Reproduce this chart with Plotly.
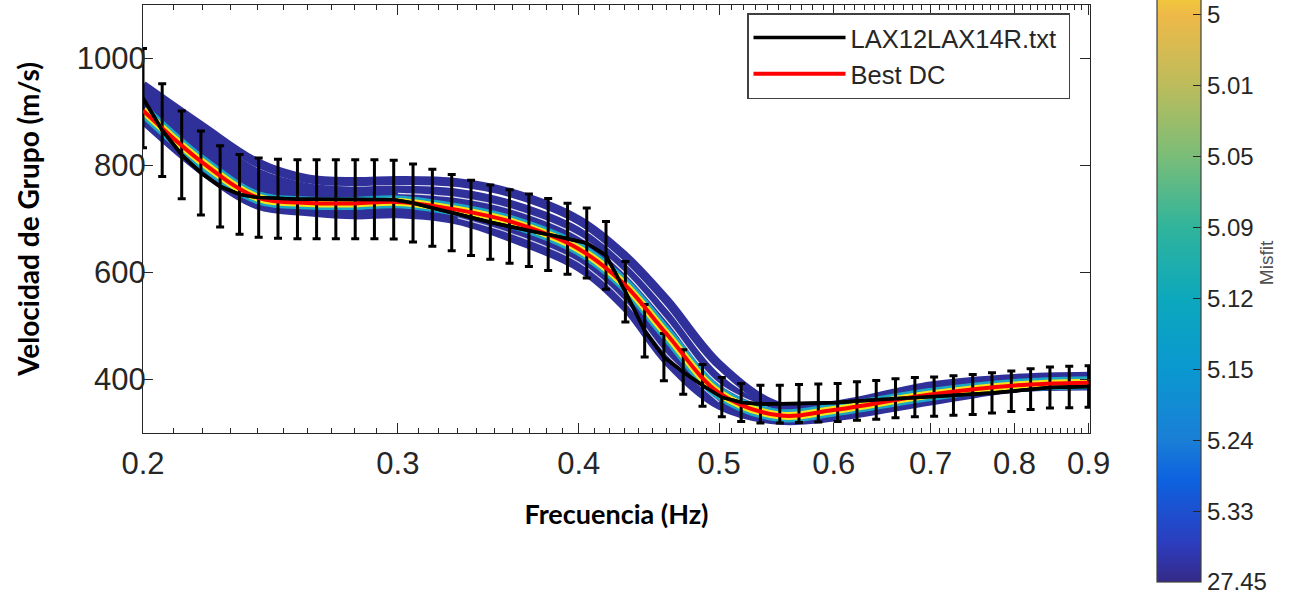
import plotly.graph_objects as go
import math

# ---------------- data ----------------
# observed dispersion curve (LAX12LAX14R.txt), error bars = 10 %
obs_freq = [0.2000, 0.2062, 0.2127, 0.2193, 0.2261, 0.2332, 0.2404, 0.2479, 0.2557, 0.2636,
            0.2718, 0.2803, 0.2890, 0.2980, 0.3073, 0.3169, 0.3268, 0.3370, 0.3475, 0.3583,
            0.3695, 0.3810, 0.3929, 0.4051, 0.4177, 0.4308, 0.4442, 0.4580, 0.4723, 0.4870,
            0.5022, 0.5179, 0.5340, 0.5507, 0.5678, 0.5855, 0.6038, 0.6226, 0.6420, 0.6620,
            0.6827, 0.7039, 0.7259, 0.7485, 0.7718, 0.7959, 0.8207, 0.8463, 0.8727, 0.9000]
obs_vel = [926, 866, 820, 786, 761, 746, 740, 738, 737, 737,
           737, 737, 737, 736, 730, 721, 712, 702, 694, 686,
           679, 671, 663, 655, 632, 564, 491, 442, 414, 389,
           367, 357, 354, 354, 355, 356, 357, 360, 362, 365,
           367, 368, 370, 372, 375, 378, 382, 385, 386, 387]
obs_err_pct = 10

# model dispersion curves (group velocity, m/s)
model_freq = [0.20, 0.22, 0.24, 0.26, 0.28, 0.30, 0.33, 0.36, 0.40, 0.43, 0.46, 0.50, 0.55, 0.60, 0.70, 0.80, 0.90]
model_upper_strand = [950, 872, 805, 775, 770, 772, 768, 748, 698, 632, 548, 428, 350, 352, 388, 402, 406]
model_band_top = [940, 858, 790, 762, 756, 758, 752, 730, 680, 612, 525, 405, 343, 348, 384, 400, 404]
model_band_bottom = [880, 785, 722, 710, 704, 706, 694, 660, 606, 532, 430, 348, 320, 326, 356, 380, 384]
best_dc = [903, 805, 740, 730, 729, 732, 717, 694, 644, 578, 485, 375, 333, 343, 372, 389, 394]

gap_freq_a = [0.30, 0.33, 0.36, 0.40, 0.43, 0.46, 0.50, 0.55]
gap_vel_a = [748, 740, 718, 668, 600, 510, 392, 340]
gap_freq_b = [0.33, 0.36, 0.40, 0.43, 0.46, 0.50]
gap_vel_b = [702, 672, 619, 547, 447, 358]

# colour bar (misfit)
misfit_labels = ["27.45", "5.33", "5.24", "5.15", "5.12", "5.09", "5.05", "5.01", "5"]

x_ticks = [0.2, 0.3, 0.4, 0.5, 0.6, 0.7, 0.8, 0.9]
x_ticklabels = ["0.2", "0.3", "0.4", "0.5", "0.6", "0.7", "0.8", "0.9"]
y_ticks = [400, 600, 800, 1000]

# ---------------- style ----------------
parula_rev = [
    [0.000, "#352a87"], [0.060, "#2c3dbe"], [0.160, "#0d62e0"], [0.222, "#1a7ed6"],
    [0.333, "#0a98d0"], [0.444, "#0ca8bc"], [0.556, "#30b49c"], [0.667, "#7abd78"],
    [0.778, "#bcbc5c"], [0.889, "#eeb948"], [1.000, "#f9fb0e"]]
BAND = "#30309a"
AX = "#262626"

fig = go.Figure()

# blue ensemble band
fig.add_trace(go.Scatter(x=model_freq, y=model_band_bottom, mode="lines",
                         line=dict(color=BAND, width=5, shape="spline"),
                         showlegend=False, hoverinfo="skip"))
fig.add_trace(go.Scatter(x=model_freq, y=model_band_top, mode="lines", fill="tonexty",
                         fillcolor=BAND, line=dict(color=BAND, width=5, shape="spline"),
                         showlegend=False, hoverinfo="skip"))
fig.add_trace(go.Scatter(x=model_freq, y=model_upper_strand, mode="lines",
                         line=dict(color=BAND, width=9, shape="spline"),
                         showlegend=False, hoverinfo="skip"))
# thin gaps between ensemble members
fig.add_trace(go.Scatter(x=gap_freq_a, y=gap_vel_a, mode="lines",
                         line=dict(color="rgba(255,255,255,0.85)", width=1.3, shape="spline"),
                         showlegend=False, hoverinfo="skip"))
fig.add_trace(go.Scatter(x=gap_freq_b, y=gap_vel_b, mode="lines",
                         line=dict(color="rgba(255,255,255,0.75)", width=1.2, shape="spline"),
                         showlegend=False, hoverinfo="skip"))
# low-misfit models around the best one
fig.add_trace(go.Scatter(x=model_freq, y=best_dc, mode="lines",
                         line=dict(color="#1aa6c4", width=13, shape="spline"),
                         showlegend=False, hoverinfo="skip"))
fig.add_trace(go.Scatter(x=model_freq, y=best_dc, mode="lines",
                         line=dict(color="#f4e61c", width=8, shape="spline"),
                         showlegend=False, hoverinfo="skip"))
# observed curve
fig.add_trace(go.Scatter(x=obs_freq, y=obs_vel, mode="lines", name="LAX12LAX14R.txt\u00a0",
                         line=dict(color="black", width=3.5),
                         error_y=dict(type="percent", value=obs_err_pct, color="black",
                                      thickness=3, width=4)))
# best model
fig.add_trace(go.Scatter(x=model_freq, y=best_dc, mode="lines", name="Best DC",
                         line=dict(color="#ff0000", width=4, shape="spline")))
# re-draw observed line on top (no legend)
fig.add_trace(go.Scatter(x=obs_freq, y=obs_vel, mode="lines", showlegend=False,
                         line=dict(color="black", width=3.5), hoverinfo="skip"))

# colour bar holder
fig.add_trace(go.Scatter(x=[None, None], y=[None, None], mode="markers", showlegend=False,
                         marker=dict(color=[0, 9], cmin=0, cmax=9, colorscale=parula_rev,
                                     showscale=True,
                                     colorbar=dict(
                                         x=(1157 - 143) / 947, xanchor="left", xpad=0,
                                         y=(433 - 582) / 428, yanchor="bottom", ypad=0,
                                         lenmode="pixels", len=638,
                                         thicknessmode="pixels", thickness=44,
                                         outlinecolor="#404040", outlinewidth=1.2,
                                         tickmode="array", tickvals=list(range(9)),
                                         ticktext=misfit_labels, ticks="inside",
                                         ticklen=8, tickwidth=1.2, tickcolor=AX,
                                         ticklabeloverflow="allow",
                                         tickfont=dict(family="Liberation Sans", size=24, color=AX),
                                         title=dict(text="Misfit", side="right",
                                                    font=dict(family="Liberation Sans", size=19,
                                                              color="#505050"))))))

axis_common = dict(showline=True, linecolor=AX, linewidth=1.2, mirror="ticks",
                   ticks="inside", tickcolor=AX, tickwidth=1.2, showgrid=False, zeroline=False,
                   tickfont=dict(family="Liberation Sans", size=31, color=AX))

fig.update_layout(
    width=1314, height=599,
    margin=dict(l=143, r=224, t=5, b=166, autoexpand=False),
    paper_bgcolor="white", plot_bgcolor="white",
    xaxis=dict(type="log", range=[math.log10(0.2), math.log10(0.902)],
               tickmode="array", tickvals=x_ticks, ticktext=x_ticklabels, ticklen=10,
               ticklabelstandoff=3,
               minor=dict(tickmode="array",
                          tickvals=[round(0.2 + 0.01 * i, 2) for i in range(1, 70) if i % 10],
                          ticks="inside", ticklen=5, tickcolor=AX, tickwidth=1),
               title=dict(text="Frecuencia (Hz)", standoff=24,
                          font=dict(family="Lato", size=27, color="black", weight="bold")),
               **axis_common),
    yaxis=dict(range=[300, 1100], tickmode="array", tickvals=y_ticks, ticklen=10,
               ticklabelstandoff=-10,
               title=dict(text="Velocidad de Grupo (m/s)", standoff=28,
                          font=dict(family="Lato", size=28, color="black", weight="bold")),
               **axis_common),
    legend=dict(x=(747 - 143) / 947, xanchor="left", y=(433 - 13) / 428, yanchor="top",
                bgcolor="white", bordercolor="#404040", borderwidth=1.5,
                font=dict(family="Liberation Sans", size=25.5, color=AX),
                itemwidth=92, tracegroupgap=0, traceorder="normal"),
    showlegend=True,
)

fig.write_html("out.html", config={"displayModeBar": False},
               post_script="document.body.style.margin='0px';")
